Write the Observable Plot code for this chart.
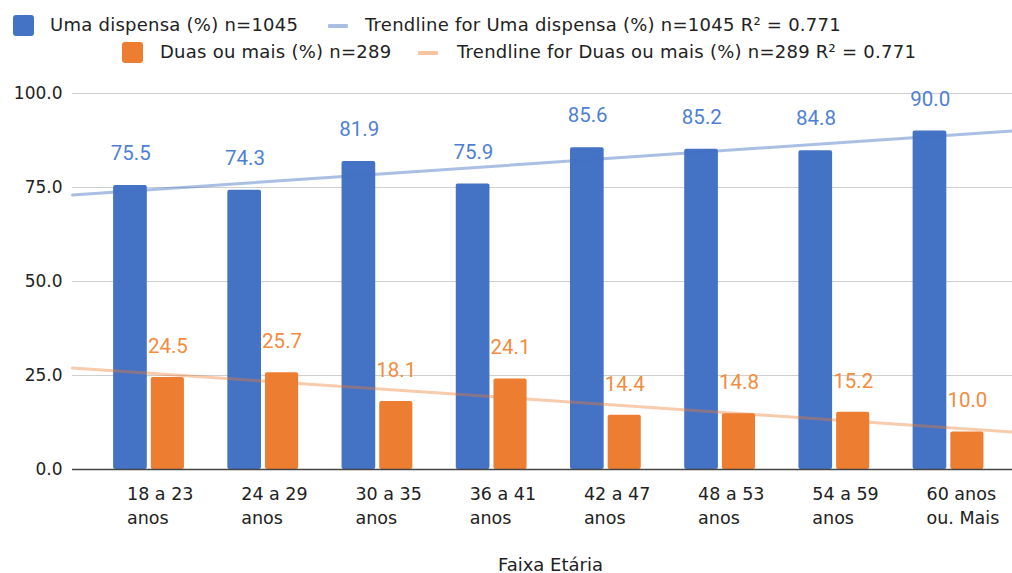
<!DOCTYPE html>
<html>
<head>
<meta charset="utf-8">
<script src="https://cdn.jsdelivr.net/npm/d3@7"></script>
<script src="https://cdn.jsdelivr.net/npm/@observablehq/plot@0.6"></script>
<style>
  html, body { margin: 0; padding: 0; background: #fff; }
  #wrap { position: relative; width: 1012px; height: 573px; overflow: hidden; font-family: "DejaVu Sans", sans-serif; }
  #legend { position: relative; height: 70px; }
  .sw { position: absolute; border-radius: 3px; }
  .ln { position: absolute; height: 4px; border-radius: 1px; }
  .lt { position: absolute; font-size: 18px; color: #222; white-space: nowrap; line-height: 20px; letter-spacing: 0.25px; }
</style>
</head>
<body>
<div id="wrap">
  <div id="legend"></div>
  <div id="chart"></div>
</div>
<script>
// ---- data ----
const categories = ["18 a 23\nanos", "24 a 29\nanos", "30 a 35\nanos", "36 a 41\nanos", "42 a 47\nanos", "48 a 53\nanos", "54 a 59\nanos", "60 anos\nou. Mais"];
const umaDispensa = [75.5, 74.3, 81.9, 75.9, 85.6, 85.2, 84.8, 90.0];
const duasOuMais = [24.5, 25.7, 18.1, 24.1, 14.4, 14.8, 15.2, 10.0];
const seriesNames = ["Uma dispensa (%) n=1045", "Duas ou mais (%) n=289"];
const trendNames = ["Trendline for Uma dispensa (%) n=1045 R² = 0.771", "Trendline for Duas ou mais (%) n=289 R² = 0.771"];
const yTicks = [0, 25, 50, 75, 100];
const axisTitle = "Faixa Etária";

const blue = "#4472c4", orange = "#ed7d31";
const blueLabel = "#4f7fd4", orangeLabel = "#f28c3e";

// ---- legend ----
const legend = document.getElementById("legend");
function add(tag, cls, style, text) {
  const el = document.createElement(tag);
  el.className = cls;
  Object.assign(el.style, style);
  if (text) el.textContent = text;
  legend.appendChild(el);
}
add("div", "sw", {left: "13px", top: "15px", width: "21px", height: "21px", background: blue});
add("div", "lt", {left: "50px", top: "15px"}, seriesNames[0]);
add("div", "ln", {left: "328px", top: "24px", width: "20px", background: blue, opacity: 0.45});
add("div", "lt", {left: "365px", top: "15px"}, trendNames[0]);
add("div", "sw", {left: "122px", top: "42px", width: "21px", height: "21px", background: orange});
add("div", "lt", {left: "160px", top: "42px"}, seriesNames[1]);
add("div", "ln", {left: "418px", top: "51px", width: "20px", background: orange, opacity: 0.45});
add("div", "lt", {left: "457px", top: "42px"}, trendNames[1]);

// ---- table ----
const rows = categories.map((c, i) => ({i: i + 1, cat: c, uma: umaDispensa[i], duas: duasOuMais[i]}));
const xDomain = [0.33, 8.56];

function regression(vals) {
  const xs = vals.map((_, i) => i + 1);
  const mx = d3.mean(xs), my = d3.mean(vals);
  const sxy = d3.sum(xs, (x, k) => (x - mx) * (vals[k] - my));
  const sxx = d3.sum(xs, x => (x - mx) ** 2);
  const slope = sxy / sxx;
  return {slope, intercept: my - slope * mx};
}
const rb = regression(umaDispensa), ro = regression(duasOuMais);
const trendB = xDomain.map(x => ({x, y: rb.intercept + rb.slope * x}));
const trendO = xDomain.map(x => ({x, y: ro.intercept + ro.slope * x}));

const plot = Plot.plot({
  width: 1012,
  height: 503,
  marginLeft: 72,
  marginRight: 0,
  marginTop: 23,
  marginBottom: 104,
  style: {fontFamily: "DejaVu Sans, sans-serif", color: "#222", background: "#fff"},
  x: {type: "linear", domain: xDomain},
  y: {domain: [0, 100]},
  marks: [
    Plot.gridY(yTicks, {stroke: "#cfcfcf", strokeOpacity: 1}),
    Plot.axisY(yTicks, {tickSize: 0, tickPadding: 10, tickFormat: d3.format(".1f"), fontSize: 17, label: null}),
    Plot.axisX(rows.map(d => d.i), {tickSize: 0, tickPadding: 14, tickFormat: i => categories[i - 1], fontSize: 17.5, lineHeight: 1.35, textAnchor: "start", dx: -22, label: null}),
    Plot.rectY(rows, {x1: d => d.i - 0.31, x2: d => d.i - 0.015, y1: 0, y2: "uma", fill: blue, rx: 2}),
    Plot.rectY(rows, {x1: d => d.i + 0.02, x2: d => d.i + 0.31, y1: 0, y2: "duas", fill: orange, rx: 2}),
    Plot.ruleY([0], {stroke: "#444", strokeWidth: 1.5}),
    Plot.line(trendB, {x: "x", y: "y", stroke: blue, strokeOpacity: 0.45, strokeWidth: 3}),
    Plot.line(trendO, {x: "x", y: "y", stroke: orange, strokeOpacity: 0.4, strokeWidth: 3}),
    Plot.text(rows, {x: d => d.i - 0.16, y: "uma", text: d => d3.format(".1f")(d.uma), dy: -32, fill: blueLabel, fontSize: 20.5, fontFamily: "Roboto, sans-serif"}),
    Plot.text(rows, {x: d => d.i + 0.165, y: "duas", text: d => d3.format(".1f")(d.duas), dy: -31, fill: orangeLabel, fontSize: 20.5, fontFamily: "Roboto, sans-serif"}),
    Plot.text([axisTitle], {text: d => d, frameAnchor: "bottom", dy: 101, dx: 8, fontSize: 18, fill: "#222", style: "letter-spacing:1px"})
  ]
});
document.getElementById("chart").appendChild(plot);
</script>
</body>
</html>
